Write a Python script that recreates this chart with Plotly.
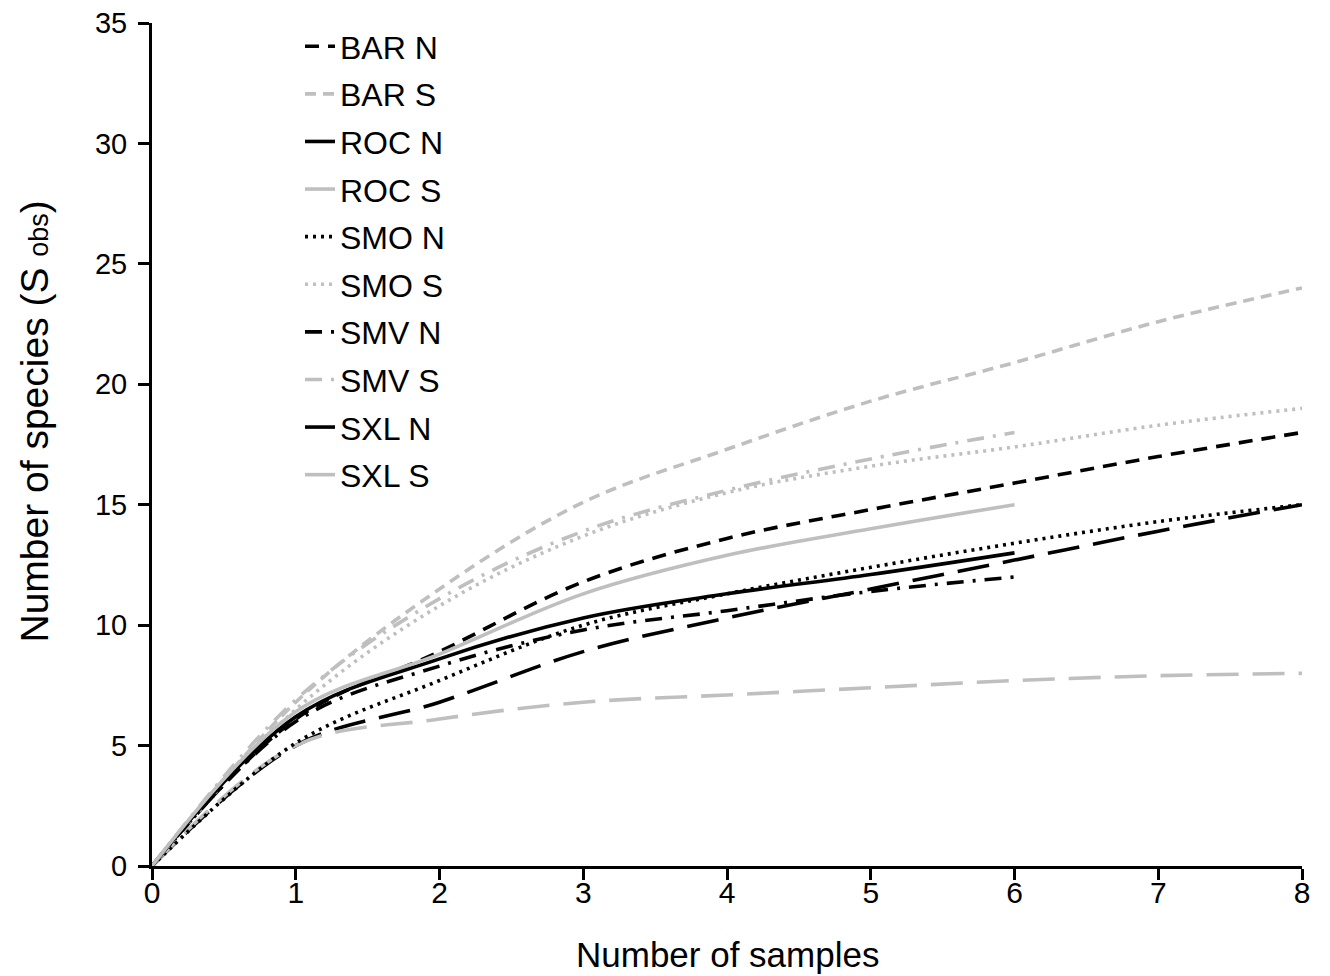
import plotly.graph_objects as go

samples = [0, 1, 2, 3, 4, 5, 6, 7, 8]

series_names = ["BAR N", "BAR S", "ROC N", "ROC S", "SMO N", "SMO S",
                "SMV N", "SMV S", "SXL N", "SXL S"]

BAR_N = [0, 6.1, 8.9, 11.8, 13.6, 14.8, 15.9, 17.0, 18.0]
BAR_S = [0, 6.8, 11.5, 15.1, 17.3, 19.3, 20.9, 22.6, 24.0]
ROC_N = [0, 5.0, 6.8, 8.9, 10.3, 11.5, 12.7, 13.9, 15.0]
ROC_S = [0, 5.0, 6.1, 6.8, 7.1, 7.4, 7.7, 7.9, 8.0]
SMO_N = [0, 5.1, 7.7, 10.0, 11.3, 12.4, 13.4, 14.3, 15.0]
SMO_S = [0, 6.5, 10.8, 13.7, 15.5, 16.6, 17.4, 18.3, 19.0]
SMV_N = [0, 6.0, 8.3, 9.8, 10.6, 11.4, 12.0]
SMV_S = [0, 6.9, 11.1, 13.9, 15.6, 16.9, 18.0]
SXL_N = [0, 6.2, 8.6, 10.3, 11.3, 12.1, 13.0]
SXL_S = [0, 6.4, 8.8, 11.3, 12.9, 14.0, 15.0]

values = [BAR_N, BAR_S, ROC_N, ROC_S, SMO_N, SMO_S, SMV_N, SMV_S, SXL_N, SXL_S]

BLACK = "#000000"
GRAY = "#bfbfbf"
styles = [
    (BLACK, "14px,9px", 3.6),
    (GRAY, "11px,7px", 3.6),
    (BLACK, "32px,14px", 3.6),
    (GRAY, "32px,14px", 3.6),
    (BLACK, "3px,5px", 3.6),
    (GRAY, "3px,5px", 3.6),
    (BLACK, "17px,9px,3px,9px", 3.6),
    (GRAY, "17px,9px,3px,9px", 3.6),
    (BLACK, "solid", 3.6),
    (GRAY, "solid", 3.6),
]

FONT = "Liberation Sans, Arial, sans-serif"

fig = go.Figure()
for name, ys, (col, dash, w) in zip(series_names, values, styles):
    fig.add_trace(go.Scatter(
        x=samples[:len(ys)], y=ys, mode="lines", name=name,
        legendgroup=name,
        line=dict(color=col, dash=dash, width=w, shape="spline", smoothing=1.0),
    ))

fig.update_layout(
    width=1330, height=976,
    margin=dict(l=144, r=36, t=14, b=118),
    paper_bgcolor="white", plot_bgcolor="white",
    font=dict(family=FONT, size=32, color="black"),
    showlegend=True,
    legend=dict(
        x=0.1287, y=1.0036, xanchor="left", yanchor="top",
        font=dict(family=FONT, size=32, color="black"),
        bgcolor="rgba(0,0,0,0)", tracegroupgap=3, maxheight=900,
    ),
    xaxis=dict(
        range=[0, 8], dtick=1, showgrid=False, zeroline=False,
        showline=True, linecolor="black", linewidth=3,
        ticks="outside", ticklen=11, tickwidth=3, tickcolor="black",
        tickfont=dict(family=FONT, size=30), automargin=False,
        ticklabelstandoff=-13, ticklabeloverflow="allow",
    ),
    yaxis=dict(
        range=[0, 35], dtick=5, showgrid=False, zeroline=False,
        showline=True, linecolor="black", linewidth=3,
        ticks="outside", ticklen=11, tickwidth=3, tickcolor="black",
        tickfont=dict(family=FONT, size=29), automargin=False,
        ticklabelstandoff=5, ticklabeloverflow="allow",
    ),
    annotations=[
        dict(
            text="Number of species (S <span style='font-size:27px'>obs</span>)",
            xref="paper", yref="paper", x=-0.1026, y=0.5273,
            xanchor="center", yanchor="middle",
            textangle=-90, showarrow=False,
            font=dict(family=FONT, size=39, color="black"),
        ),
        dict(
            text="Number of samples",
            xref="paper", yref="paper", x=0.5, y=-0.1055,
            xanchor="center", yanchor="middle", showarrow=False,
            font=dict(family=FONT, size=35, color="black"),
        ),
    ],
)

fig.write_html("out.html")
